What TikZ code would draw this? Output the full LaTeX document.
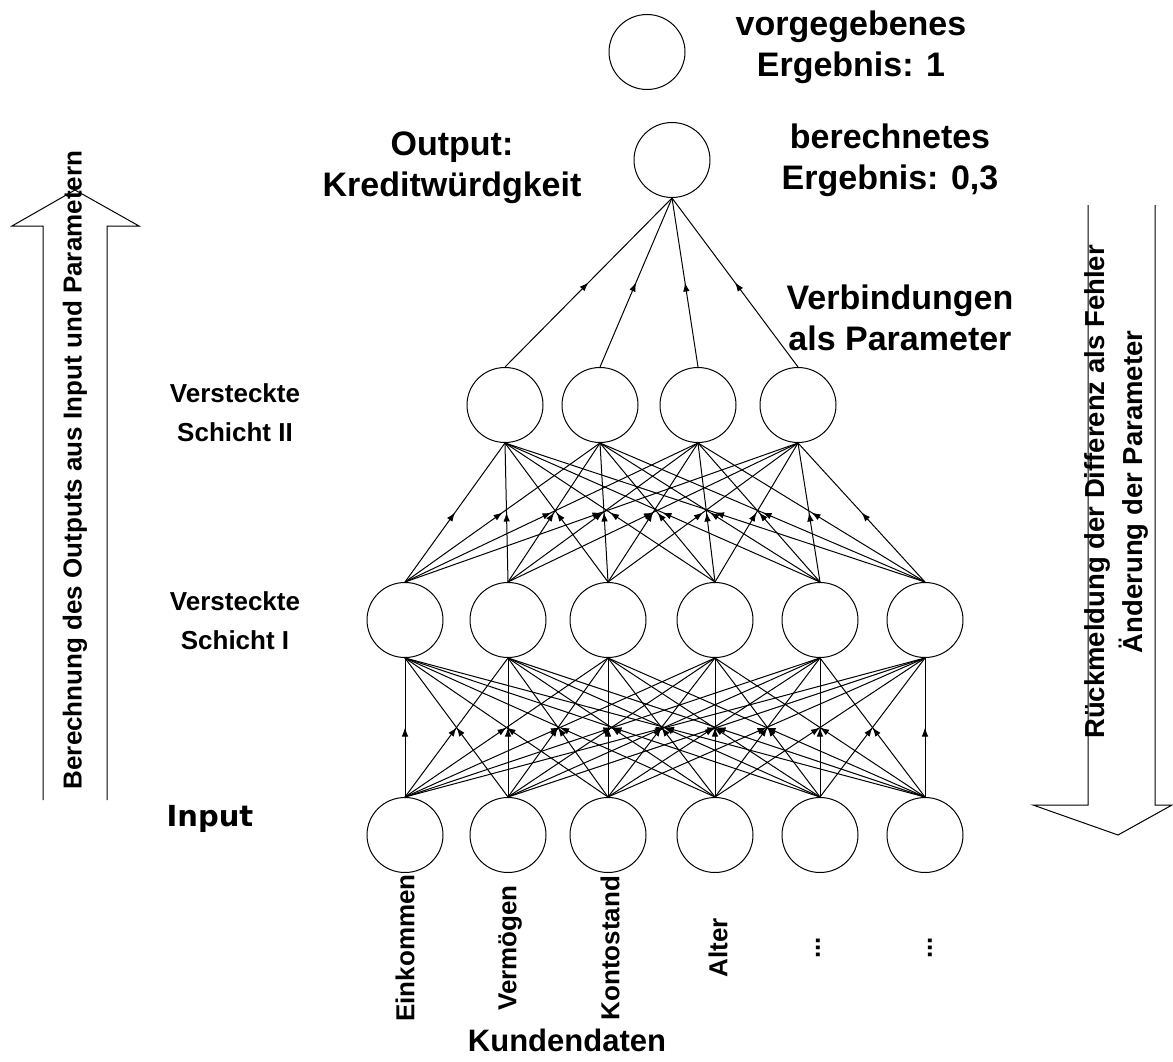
\documentclass[tikz,border=0pt]{standalone}
\usepackage{fontspec}
\setmainfont{Liberation Sans}
\newfontfamily\inputfont{DejaVu Sans}
\usetikzlibrary{shapes.geometric,arrows.meta,decorations.markings}

\tikzset{
  neuron/.style={ellipse, draw, minimum width=76pt, minimum height=75pt, inner sep=0pt},
  weight/.style={postaction={decorate}, decoration={markings,
      mark=at position 0.5 with {\arrow{Latex[length=9pt,width=6.5pt]}}}},
  biglabel/.style={align=center, font=\fontsize{34}{41}\selectfont\bfseries},
  layerlabel/.style={align=center, font=\fontsize{26}{39}\selectfont\bfseries},
  datalabel/.style={rotate=90, font=\fontsize{26}{30}\selectfont\bfseries},
  flowlabel/.style={rotate=90, align=center, font=\fontsize{27.5}{38}\selectfont\bfseries},
  blockarrow/.style={line join=miter}
}

\begin{document}
\begin{tikzpicture}[x=1pt, y=-1pt, line width=1pt]
    \useasboundingbox (0,0) rectangle (1173,1062);

    % input layer and first hidden layer
    \foreach \x [count=\i] in {405,508,608,715,820,925} {
      \node [neuron] (in\i) at (\x,835) {};
      \node [neuron] (ha\i) at (\x,620) {};
    }
    % second hidden layer
    \foreach \x [count=\i] in {505,600,698,798}
      \node [neuron] (hb\i) at (\x,405) {};

    \node [neuron] (out) at (672,160) {};
    \node [neuron] (target) at (647,52) {};

    % weights
    \foreach \i in {1,...,6}
      \foreach \j in {1,...,6}
        \draw [weight] (in\i.north) -- (ha\j.south);
    \foreach \i in {1,...,6}
      \foreach \j in {1,...,4}
        \draw [weight] (ha\i.north) -- (hb\j.south);
    \foreach \j in {1,...,4}
      \draw [weight] (hb\j.north) -- (out.south);

    % labels
    \node [biglabel] (targetlbl) at (851,47) {vorgegebenes\\Ergebnis: 1};
    \node [biglabel] (outlbl) at (890,160) {berechnetes\\Ergebnis: 0,3};
    \node [biglabel] (outname) at (452,168) {Output:\\Kreditwürdgkeit};
    \node [biglabel] (weightlbl) at (900,318) {Verbindungen\\als Parameter};
    \node [layerlabel] (hblbl) at (235,413) {Versteckte\\Schicht II};
    \node [layerlabel] (halbl) at (235,621) {Versteckte\\Schicht I};
    \node [font=\inputfont\fontsize{29}{34}\selectfont\bfseries] (inlbl) at (210,819) {Input};

    \node [datalabel] (d1) at (405,948) {Einkommen};
    \node [datalabel] (d2) at (510,948) {Vermögen};
    \node [datalabel] (d3) at (610,948) {Kontostand};
    \node [datalabel] (d4) at (718,948) {Alter};
    \node [datalabel] (d5) at (818,948) {...};
    \node [datalabel] (d6) at (930,948) {...};
    \node [font=\fontsize{31}{36}\selectfont\bfseries] (datalbl) at (567,1040) {Kundendaten};

    % forward and backward block arrows
    \draw [blockarrow] (43,800) -- (43,226) -- (12,226) -- (75,190) -- (139,226) -- (107,226) -- (107,800);
    \node [flowlabel, font=\fontsize{26}{38}\selectfont\bfseries] (fwd) at (75,470) {Berechnung des Outputs aus Input und Parametern};
    \draw [blockarrow] (1088,205) -- (1088,805) -- (1033,805) -- (1118,835) -- (1172,805) -- (1155,805) -- (1155,205);
    \node [flowlabel] (bwd) at (1116,492) {Rückmeldung der Differenz als Fehler\\Änderung der Parameter};

\end{tikzpicture}
\end{document}
